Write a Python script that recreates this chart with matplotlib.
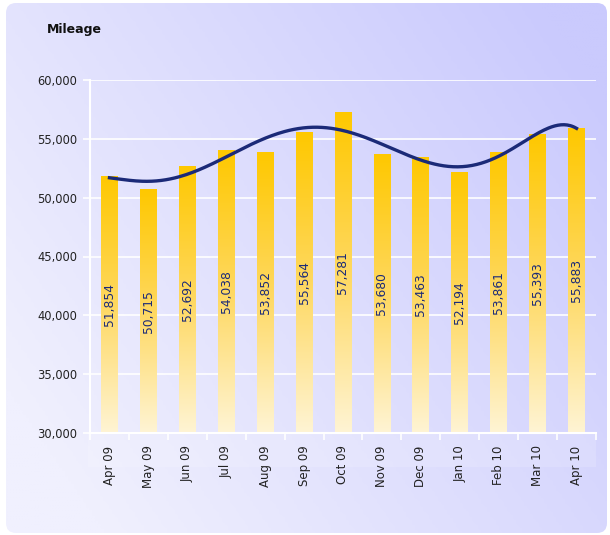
import numpy as np
import matplotlib
matplotlib.use("Agg")
import matplotlib.pyplot as plt
from matplotlib.patches import FancyBboxPatch, Rectangle
from matplotlib.colors import LinearSegmentedColormap

# data
months = ["Apr 09", "May 09", "Jun 09", "Jul 09", "Aug 09", "Sep 09", "Oct 09",
          "Nov 09", "Dec 09", "Jan 10", "Feb 10", "Mar 10", "Apr 10"]
mileage = [51854, 50715, 52692, 54038, 53852, 55564, 57281,
           53680, 53463, 52194, 53861, 55393, 55883]
y_ticks = [30000, 35000, 40000, 45000, 50000, 55000, 60000]

navy = "#1b2a78"

fig = plt.figure(figsize=(6.1, 5.35), dpi=100)

# background panel with diagonal gradient
bg = fig.add_axes([0, 0, 1, 1], zorder=-10)
bg.set_xlim(0, 610)
bg.set_ylim(535, 0)
bg.axis("off")
xx, yy = np.meshgrid(np.linspace(0, 1, 200), np.linspace(0, 1, 200))
t = np.clip(0.75 * xx + 0.45 * (1 - yy) - 0.12, 0, 1)
bg_cmap = LinearSegmentedColormap.from_list("bg", ["#f0f0fe", "#cacafd"])
img = bg.imshow(t, cmap=bg_cmap, extent=[6, 607, 533, 3], aspect="auto", vmin=0, vmax=1)
panel = FancyBboxPatch((6, 3), 601, 530, boxstyle="round,pad=0,rounding_size=10",
                       facecolor="none", edgecolor="none")
bg.add_patch(panel)
img.set_clip_path(panel)
# lighter band under the plot area
bg.add_patch(Rectangle((88, 433), 508, 34, facecolor="white", alpha=0.15, edgecolor="none"))
bg.text(47, 30, "Mileage", fontsize=9, fontweight="bold", color="#111111",
        family="DejaVu Sans", va="center", ha="left")

ax = fig.add_axes([90 / 610, 102 / 535, 506 / 610, 353 / 535])
ax.set_facecolor("none")

x = np.arange(len(months))
bar_w = 0.43
bar_cmap = LinearSegmentedColormap.from_list("bar", ["#fff4d4", "#fed860", "#ffc800"])
grad = np.linspace(0, 1, 256).reshape(-1, 1)
bars = ax.bar(x, mileage, width=bar_w, bottom=0, color="none", zorder=2)
for b in bars:
    bx, bw, h = b.get_x(), b.get_width(), b.get_height()
    im = ax.imshow(grad, cmap=bar_cmap, extent=[bx, bx + bw, 30000, h],
                   origin="lower", aspect="auto", zorder=2)
    im.set_clip_path(b)

for xi, v in zip(x, mileage):
    ax.text(xi, (30000 + v) / 2, f"{v:,}", rotation=90, ha="center", va="center",
            fontsize=8.8, color=navy, zorder=4)

# trend line (polynomial fit of the data)
coef = np.polyfit(x, mileage, 6)
xs = np.linspace(0, len(months) - 1, 300)
ax.plot(xs, np.polyval(coef, xs), color=navy, lw=2.4, zorder=3)

ax.set_xlim(-0.5, len(months) - 0.5)
ax.set_ylim(30000, 60000)
ax.set_yticks(y_ticks)
ax.set_yticklabels([f"{v:,}" for v in y_ticks])
ax.yaxis.grid(True, color="white", lw=1.2, zorder=1)
ax.set_axisbelow(True)

ax.set_xticks(np.arange(len(months) + 1) - 0.5)
ax.set_xticklabels([])
ax.set_xticks(x, minor=True)
ax.set_xticklabels(months, minor=True, rotation=90, fontsize=8.5, color="#222222")
ax.tick_params(axis="x", which="major", length=5, color="white", width=1.2)
ax.tick_params(axis="x", which="minor", length=0, pad=9)
ax.tick_params(axis="y", length=5, color="white", width=1.2, labelsize=8.3,
               labelcolor="#222222", pad=4)

for side in ["top", "right"]:
    ax.spines[side].set_visible(False)
for side in ["left", "bottom"]:
    ax.spines[side].set_color("white")
    ax.spines[side].set_linewidth(1.5)

fig.savefig("out.png", dpi=100, facecolor="white")
